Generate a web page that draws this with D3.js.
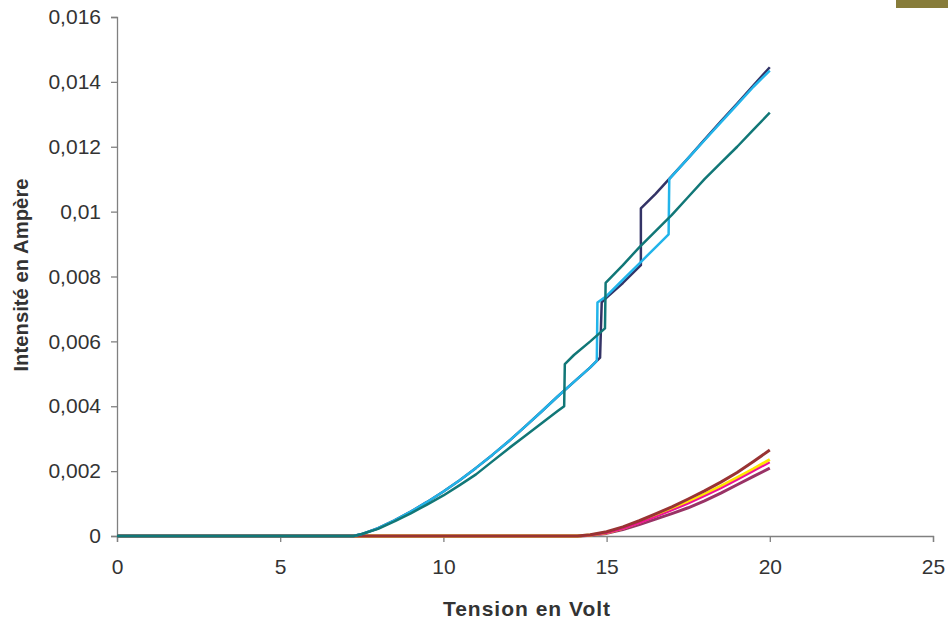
<!DOCTYPE html>
<html>
<head>
<meta charset="utf-8">
<script src="https://cdn.jsdelivr.net/npm/d3@7"></script>
<style>
  html, body { margin: 0; padding: 0; background: #fff; }
  svg { display: block; }
  text { font-family: "Liberation Sans", Arial, Helvetica, sans-serif; fill: #333; }
</style>
</head>
<body>
<svg id="chart" width="948" height="623"></svg>
<script>
// ---- Data (Tension en Volt, Intensité en Ampère) ----
const xTicks = [0, 5, 10, 15, 20, 25];
const yTicks = [0, 0.002, 0.004, 0.006, 0.008, 0.01, 0.012, 0.014, 0.016];
const yTickLabels = ["0", "0,002", "0,004", "0,006", "0,008", "0,01", "0,012", "0,014", "0,016"];

const seriesPurple = [[0,0],[14.2,0],[14.5,0.00002],[15,0.00008],[15.5,0.0002],[16,0.00035],[16.5,0.00052],[17,0.00069],[17.5,0.00087],[18,0.00108],[18.5,0.00132],[19,0.00158],[19.5,0.00184],[20,0.00209]];
const seriesYellow = [[0,0],[14.1,0],[14.5,0.00003],[15,0.0001],[15.5,0.00024],[16,0.00042],[16.5,0.00062],[17,0.00083],[17.5,0.00105],[18,0.00129],[18.5,0.00154],[19,0.0018],[19.5,0.00207],[20,0.00236]];
const seriesMagenta = [[0,0],[14.2,0],[14.5,0.00002],[15,0.00009],[15.5,0.00022],[16,0.0004],[16.5,0.00059],[17,0.00079],[17.5,0.001],[18,0.00123],[18.5,0.00147],[19,0.00173],[19.5,0.002],[20,0.00227]];
const seriesRed = [[0,0],[14.1,0],[14.5,0.00004],[15,0.00013],[15.5,0.00028],[16,0.00047],[16.5,0.00068],[17,0.0009],[17.5,0.00114],[18,0.00139],[18.5,0.00166],[19,0.00196],[19.5,0.0023],[20,0.00265]];

const seriesNavy = [[0,0],[7.25,0],[7.5,0.00006],[8,0.00024],[8.5,0.00048],[9,0.00075],[9.5,0.00105],[10,0.00137],[10.5,0.00172],[11,0.0021],[11.5,0.0025],[12,0.00292],[12.5,0.00337],[13,0.00383],[13.5,0.0043],[14,0.00475],[14.5,0.0052],[14.8,0.0055],[14.85,0.0072],[15,0.00735],[15.5,0.0078],[16.05,0.00835],[16.05,0.0101],[16.5,0.01055],[16.8,0.01088],[17.5,0.01165],[18,0.01222],[18.5,0.01278],[19,0.01333],[19.5,0.01389],[20,0.01445]];
const seriesLightBlue = [[0,0],[7.25,0],[7.5,0.00006],[8,0.00024],[8.5,0.00048],[9,0.00075],[9.5,0.00105],[10,0.00137],[10.5,0.00172],[11,0.0021],[11.5,0.0025],[12,0.00292],[12.5,0.00337],[13,0.00383],[13.5,0.0043],[14,0.00475],[14.5,0.0052],[14.7,0.0054],[14.72,0.0072],[15,0.0074],[15.5,0.0079],[16,0.0084],[16.5,0.0089],[16.9,0.0093],[16.92,0.011],[17.5,0.01165],[18,0.0122],[18.5,0.01275],[19,0.0133],[19.5,0.01385],[20,0.01435]];
const seriesTeal = [[0,0],[7.25,0],[7.5,0.00006],[8,0.00022],[8.5,0.00045],[9,0.0007],[9.5,0.00097],[10,0.00125],[10.5,0.00157],[11,0.0019],[11.5,0.0023],[12,0.0027],[12.5,0.00308],[13,0.00347],[13.5,0.00385],[13.7,0.004],[13.72,0.0053],[14,0.00558],[14.5,0.006],[14.95,0.0064],[14.97,0.0078],[15.5,0.00835],[16,0.0089],[16.5,0.0094],[17,0.0099],[17.5,0.01045],[18,0.011],[18.5,0.0115],[19,0.012],[19.5,0.01253],[20,0.01305]];

const series = [
  { data: seriesPurple,    color: "#993366", width: 3 },
  { data: seriesYellow,    color: "#ffe600", width: 3 },
  { data: seriesMagenta,   color: "#ee1199", width: 2 },
  { data: seriesRed,       color: "#993333", width: 3 },
  { data: seriesNavy,      color: "#333366", width: 2.5 },
  { data: seriesLightBlue, color: "#22b4ea", width: 2.5 },
  { data: seriesTeal,      color: "#117777", width: 2.5 }
];

// ---- Layout ----
const svg = d3.select("#chart");
const x = d3.scaleLinear().domain([0, 25]).range([117, 933]);
const y = d3.scaleLinear().domain([0, 0.016]).range([536, 17]);
const axisColor = "#808080";

// olive fragment at top right (clipped legend)
svg.append("rect").attr("x", 896).attr("y", 0).attr("width", 52).attr("height", 8).attr("fill", "#877c3a");

// axes
const gx = svg.append("g").attr("transform", `translate(0,${y(0)})`)
  .call(d3.axisBottom(x).tickValues(xTicks).tickSize(6).tickPadding(17).tickFormat(d3.format("d")));
const gy = svg.append("g").attr("transform", `translate(${x(0)},0)`)
  .call(d3.axisLeft(y).tickValues(yTicks).tickSize(6).tickPadding(10).tickFormat((d, i) => yTickLabels[i]));
[gx, gy].forEach(g => {
  g.select(".domain").attr("stroke", axisColor).attr("stroke-width", 1.3);
  g.selectAll(".tick line").attr("stroke", axisColor).attr("stroke-width", 1.3);
  g.selectAll(".tick text").attr("font-size", 21).attr("fill", "#333")
    .attr("font-family", "'Liberation Sans', Arial, sans-serif");
});

// lines
const line = d3.line().x(d => x(d[0])).y(d => y(d[1]));
series.forEach(s => {
  svg.append("path").datum(s.data)
    .attr("fill", "none").attr("stroke", s.color)
    .attr("stroke-width", s.width).attr("stroke-linejoin", "round")
    .attr("d", line);
});

// titles
svg.append("text").attr("x", 527).attr("y", 616).attr("text-anchor", "middle")
  .attr("font-size", 21).attr("font-weight", "bold").attr("letter-spacing", 1)
  .text("Tension en Volt");
svg.append("text").attr("transform", "translate(28,275) rotate(-90)")
  .attr("text-anchor", "middle").attr("font-size", 20.3).attr("font-weight", "bold")
  .text("Intensité en Ampère");
</script>
</body>
</html>
